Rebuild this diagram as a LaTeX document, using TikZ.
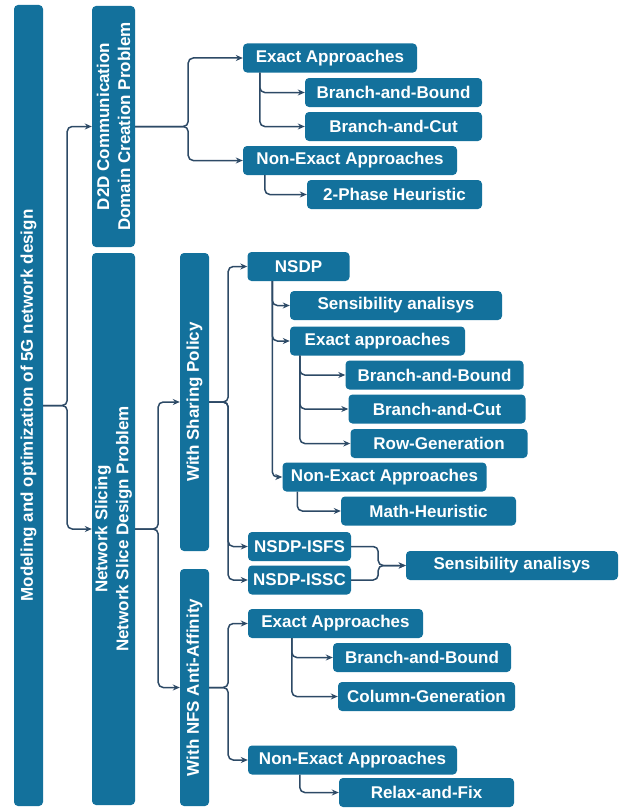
\documentclass[tikz,border=0pt]{standalone}
\usepackage{fontspec}
\setmainfont{Liberation Sans}
\usepackage{xcolor}
\usetikzlibrary{arrows.meta, positioning, calc}
\definecolor{boxblue}{HTML}{13719C}
\definecolor{linkdark}{HTML}{2D4A66}

\begin{document}
\begin{tikzpicture}[
    x=1pt, y=-1pt,
    box/.style={
        fill=boxblue, rectangle, rounded corners=4pt,
        inner sep=0pt, minimum height=29, align=center,
        text=white, font=\fontsize{17}{21}\selectfont\bfseries
    },
    vbox/.style={box, rotate=90},
    arr/.style={
        -{Stealth[length=7pt, width=6pt]}, line width=1.5pt,
        draw=linkdark, rounded corners=5pt
    },
]
\useasboundingbox (0,0) rectangle (626,808);

% rotated boxes (north = left side, south = right side)
\node[vbox, minimum width=801] (root) at (28.5,405.5) {Modeling and optimization of 5G network design};
\node[vbox, minimum width=241, minimum height=43] (d2d) at (113.5,126.5) {D2D Communication\\Domain Creation Problem};
\node[vbox, minimum width=552, minimum height=43] (slicing) at (113.5,529) {Network Slicing\\Network Slice Design Problem};
\node[vbox, minimum width=298] (sharing) at (194.5,402) {With Sharing Policy};
\node[vbox, minimum width=237] (nfs) at (194.5,687.5) {With NFS Anti-Affinity};

% D2D branch
\node[box, minimum width=174] (d2dex) at (330,58) {Exact Approaches};
\node[box, minimum width=177] (d2dbb) at (393.5,92.5) {Branch-and-Bound};
\node[box, minimum width=177] (d2dbc) at (393.5,126.5) {Branch-and-Cut};
\node[box, minimum width=214] (d2dnx) at (350,160.5) {Non-Exact Approaches};
\node[box, minimum width=175] (d2dph) at (394.5,194.5) {2-Phase Heuristic};

% sharing policy branch
\node[box, minimum width=102] (nsdp) at (298.5,266.5) {NSDP};
\node[box, minimum width=212] (nsdpsens) at (396,305.5) {Sensibility analisys};
\node[box, minimum width=175] (nsdpex) at (377.5,341) {Exact approaches};
\node[box, minimum width=178] (nsdpbb) at (434.5,375) {Branch-and-Bound};
\node[box, minimum width=177] (nsdpbc) at (437,409) {Branch-and-Cut};
\node[box, minimum width=177] (nsdprg) at (439,443.5) {Row-Generation};
\node[box, minimum width=204] (nsdpnx) at (384.5,477) {Non-Exact Approaches};
\node[box, minimum width=175] (nsdpmh) at (428.5,511) {Math-Heuristic};
\node[box, minimum width=103] (isfs) at (299.5,546.5) {NSDP-ISFS};
\node[box, minimum width=103] (issc) at (299.5,580) {NSDP-ISSC};
\node[box, minimum width=212] (issens) at (512,565.5) {Sensibility analisys};

% NFS anti-affinity branch
\node[box, minimum width=175] (nfsex) at (335.5,623.5) {Exact Approaches};
\node[box, minimum width=178] (nfsbb) at (422,657.5) {Branch-and-Bound};
\node[box, minimum width=177] (nfscg) at (426.5,696.5) {Column-Generation};
\node[box, minimum width=209] (nfsnx) at (352.5,760) {Non-Exact Approaches};
\node[box, minimum width=175] (nfsrf) at (426.5,792.5) {Relax-and-Fix};

\draw[arr] (root.south) -- ++(24,0) |- (d2d.north);
\draw[arr] (root.south) -- ++(24,0) |- (slicing.north);

\draw[arr] (d2d.south) -- ++(53,0) |- (d2dex.west);
\draw[arr] (d2d.south) -- ++(53,0) |- (d2dnx.west);
\draw[arr] ([xshift=17pt]d2dex.south west) |- (d2dbb.west);
\draw[arr] ([xshift=17pt]d2dex.south west) |- (d2dbc.west);
\draw[arr] ([xshift=22pt]d2dnx.south west) |- (d2dph.west);

\draw[arr] (slicing.south) -- ++(23,0) |- (sharing.north);
\draw[arr] (slicing.south) -- ++(23,0) |- (nfs.north);

\draw[arr] (sharing.south) -- ++(19,0) |- (nsdp.west);
\draw[arr] (sharing.south) -- ++(19,0) |- (isfs.west);
\draw[arr] (sharing.south) -- ++(19,0) |- (issc.west);
\draw[arr] ([xshift=25pt]nsdp.south west) |- (nsdpsens.west);
\draw[arr] ([xshift=25pt]nsdp.south west) |- (nsdpex.west);
\draw[arr] ([xshift=25pt]nsdp.south west) |- (nsdpnx.west);
\draw[arr] ([xshift=10pt]nsdpex.south west) |- (nsdpbb.west);
\draw[arr] ([xshift=10pt]nsdpex.south west) |- (nsdpbc.west);
\draw[arr] ([xshift=10pt]nsdpex.south west) |- (nsdprg.west);
\draw[arr] ([xshift=15pt]nsdpnx.south west) |- (nsdpmh.west);
\draw[arr] (isfs.east) -- ++(27,0) |- (issens.west);
\draw[arr] (issc.east) -- ++(27,0) |- (issens.west);

\draw[arr] (nfs.south) -- ++(19,0) |- (nfsex.west);
\draw[arr] (nfs.south) -- ++(19,0) |- (nfsnx.west);
\draw[arr] ([xshift=44pt]nfsex.south west) |- (nfsbb.west);
\draw[arr] ([xshift=44pt]nfsex.south west) |- (nfscg.west);
\draw[arr] ([xshift=52pt]nfsnx.south west) |- (nfsrf.west);
\end{tikzpicture}
\end{document}
